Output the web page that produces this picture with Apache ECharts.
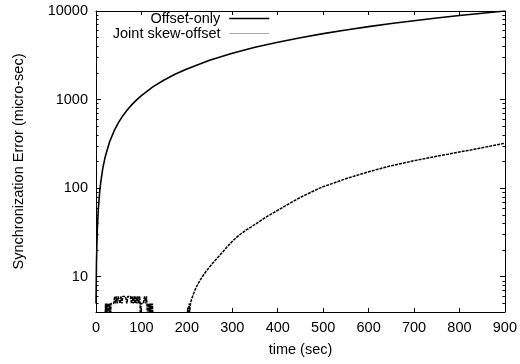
<!DOCTYPE html>
<html>
<head>
<meta charset="utf-8">
<script src="https://cdn.jsdelivr.net/npm/echarts@6/dist/echarts.min.js"></script>
<style>
  html, body { margin: 0; padding: 0; background: #fff; }
  #chart { width: 520px; height: 364px; }
</style>
</head>
<body>
<div id="chart"></div>
<script>
// tick values
const xTicks = [0, 100, 200, 300, 400, 500, 600, 700, 800, 900];
const yMajorTicks = [10, 100, 1000, 10000];
const yMinorTicks = [5, 6, 7, 8, 9, 20, 30, 40, 50, 60, 70, 80, 90,
  200, 300, 400, 500, 600, 700, 800, 900, 2000, 3000, 4000, 5000, 6000, 7000, 8000, 9000];

// Offset-only: [time, error]
const offsetPoints = [
  [0, 5], [1, 14], [2, 24], [3, 35], [5, 57], [8, 90], [10, 112], [15, 168], [20, 223],
  [30, 334], [40, 445], [50, 556], [60, 667], [70, 778], [80, 889], [90, 1000], [100, 1110],
  [125, 1390], [150, 1665], [175, 1945], [200, 2220], [250, 2780], [300, 3335], [350, 3890],
  [400, 4445], [450, 5000], [500, 5555], [550, 6110], [600, 6665], [650, 7220], [700, 7775],
  [750, 8330], [800, 8890], [850, 9445], [900, 10000]
];

// Joint skew-offset: [time, error]  (values below 4 fall under the axis)
const jointPoints = [
  [0, 3], [10, 3], [20, 3], [21, 5], [22, 3], [24, 5], [25, 3], [27, 5], [28, 3], [30, 5],
  [32, 3], [33, 5], [36, 5], [39, 5], [41, 6], [43, 5], [45, 6], [47, 5], [49, 6], [51, 6],
  [53, 5], [55, 6], [57, 5], [59, 6], [62, 6], [65, 6], [68, 5], [70, 6], [73, 6], [76, 6],
  [78, 5], [80, 6], [82, 5], [84, 6], [86, 5], [88, 6], [90, 5], [92, 6], [94, 5], [96, 6],
  [97, 5], [98, 3], [99, 5], [101, 5], [104, 5], [107, 6], [109, 5], [111, 6], [112, 5],
  [114, 3], [115, 5], [117, 3], [118, 5], [120, 3], [121, 5], [123, 3], [124, 5], [126, 3],
  [150, 3], [170, 3], [190, 3], [200, 3], [202, 4.5], [203, 3], [205, 5], [206, 4],
  [208, 5], [210, 5.5], [215, 6.5], [220, 7.5], [225, 8.4], [230, 9.3], [235, 10.2],
  [240, 11.1], [250, 12.9], [260, 14.8], [270, 16.9], [280, 19.3], [290, 22.1], [300, 25.1],
  [310, 28], [320, 30.8], [330, 33.5], [340, 36.1], [350, 39], [360, 42.2], [370, 45.6],
  [380, 49.1], [390, 52.6], [400, 56.3], [410, 60.3], [420, 64.6], [430, 69], [440, 73.8],
  [450, 78.7], [460, 83.4], [470, 88.3], [480, 93.4], [490, 98.8], [500, 104], [525, 115],
  [550, 128], [575, 140], [600, 153], [625, 166], [650, 179], [675, 191], [700, 204],
  [725, 216], [750, 229], [775, 242], [800, 256], [825, 270], [850, 286], [875, 303], [900, 322]
];

const font = "'Liberation Sans', Arial, sans-serif";
const fs = 14.5;

const chart = echarts.init(document.getElementById('chart'));

const yBase = {
  type: 'log', logBase: 10, min: 4, max: 10000,
  splitLine: { show: false },
  axisLine: { show: true, lineStyle: { color: '#000', width: 1 } }
};
const xBase = {
  type: 'value', min: 0, max: 900, interval: 100,
  splitLine: { show: false },
  axisLine: { show: true, lineStyle: { color: '#000', width: 1 } },
  axisTick: { show: true, inside: true, length: 4, lineStyle: { color: '#000' } }
};
const legendBase = {
  orient: 'vertical', align: 'right', right: 250, padding: 0,
  itemWidth: 40, itemHeight: 14, selectedMode: false,
  // hide the symbol in the legend, keep only the line sample
  itemStyle: { color: 'rgba(0,0,0,0)', borderColor: 'rgba(0,0,0,0)', borderWidth: 0 },
  textStyle: { fontSize: fs, color: '#000', fontFamily: font, padding: [0, 4, 0, 0] }
};

chart.setOption({
  animation: false,
  backgroundColor: '#fff',
  grid: { left: 96, right: 12, top: 11, bottom: 52 },
  legend: [
    Object.assign({}, legendBase, {
      data: ['Offset-only'], top: 11,
      lineStyle: { color: '#000', width: 1.5, type: 'solid' }
    }),
    Object.assign({}, legendBase, {
      data: ['Joint skew-offset'], top: 26,
      lineStyle: { color: '#555', width: 1, type: 'dotted' }
    })
  ],
  xAxis: [
    Object.assign({}, xBase, {
      position: 'bottom',
      name: 'time (sec)', nameLocation: 'middle', nameGap: 30,
      nameTextStyle: { fontSize: fs, color: '#000', fontFamily: font },
      axisLabel: { color: '#000', fontSize: fs, fontFamily: font, margin: 8,
        customValues: xTicks }
    }),
    Object.assign({}, xBase, { position: 'top', axisLabel: { show: false } })
  ],
  yAxis: [
    Object.assign({}, yBase, {
      position: 'left',
      name: 'Synchronization Error (micro-sec)', nameLocation: 'middle', nameGap: 70,
      nameTextStyle: { fontSize: fs, color: '#000', fontFamily: font },
      axisTick: { show: true, inside: true, length: 5, customValues: yMajorTicks, lineStyle: { color: '#000' } },
      axisLabel: { color: '#000', fontSize: fs, fontFamily: font, margin: 8,
        customValues: yMajorTicks, formatter: v => String(Math.round(v)) }
    }),
    Object.assign({}, yBase, {
      position: 'left', axisLine: { show: false },
      axisTick: { show: true, inside: true, length: 2.5, customValues: yMinorTicks, lineStyle: { color: '#000' } },
      axisLabel: { show: false }
    }),
    Object.assign({}, yBase, {
      position: 'right',
      axisTick: { show: true, inside: true, length: 5, customValues: yMajorTicks, lineStyle: { color: '#000' } },
      axisLabel: { show: false }
    }),
    Object.assign({}, yBase, {
      position: 'right', axisLine: { show: false },
      axisTick: { show: true, inside: true, length: 2.5, customValues: yMinorTicks, lineStyle: { color: '#000' } },
      axisLabel: { show: false }
    })
  ],
  series: [
    {
      name: 'Offset-only', type: 'line', data: offsetPoints,
      symbol: 'none', smooth: false, clip: true,
      lineStyle: { color: '#000', width: 1.6 }, itemStyle: { color: '#000' }
    },
    {
      name: 'Joint skew-offset', type: 'line', data: jointPoints,
      symbol: 'none', smooth: false, clip: true,
      lineStyle: { color: '#000', width: 1.5, type: [3, 1] }, itemStyle: { color: '#000' }
    }
  ]
});
</script>
</body>
</html>
